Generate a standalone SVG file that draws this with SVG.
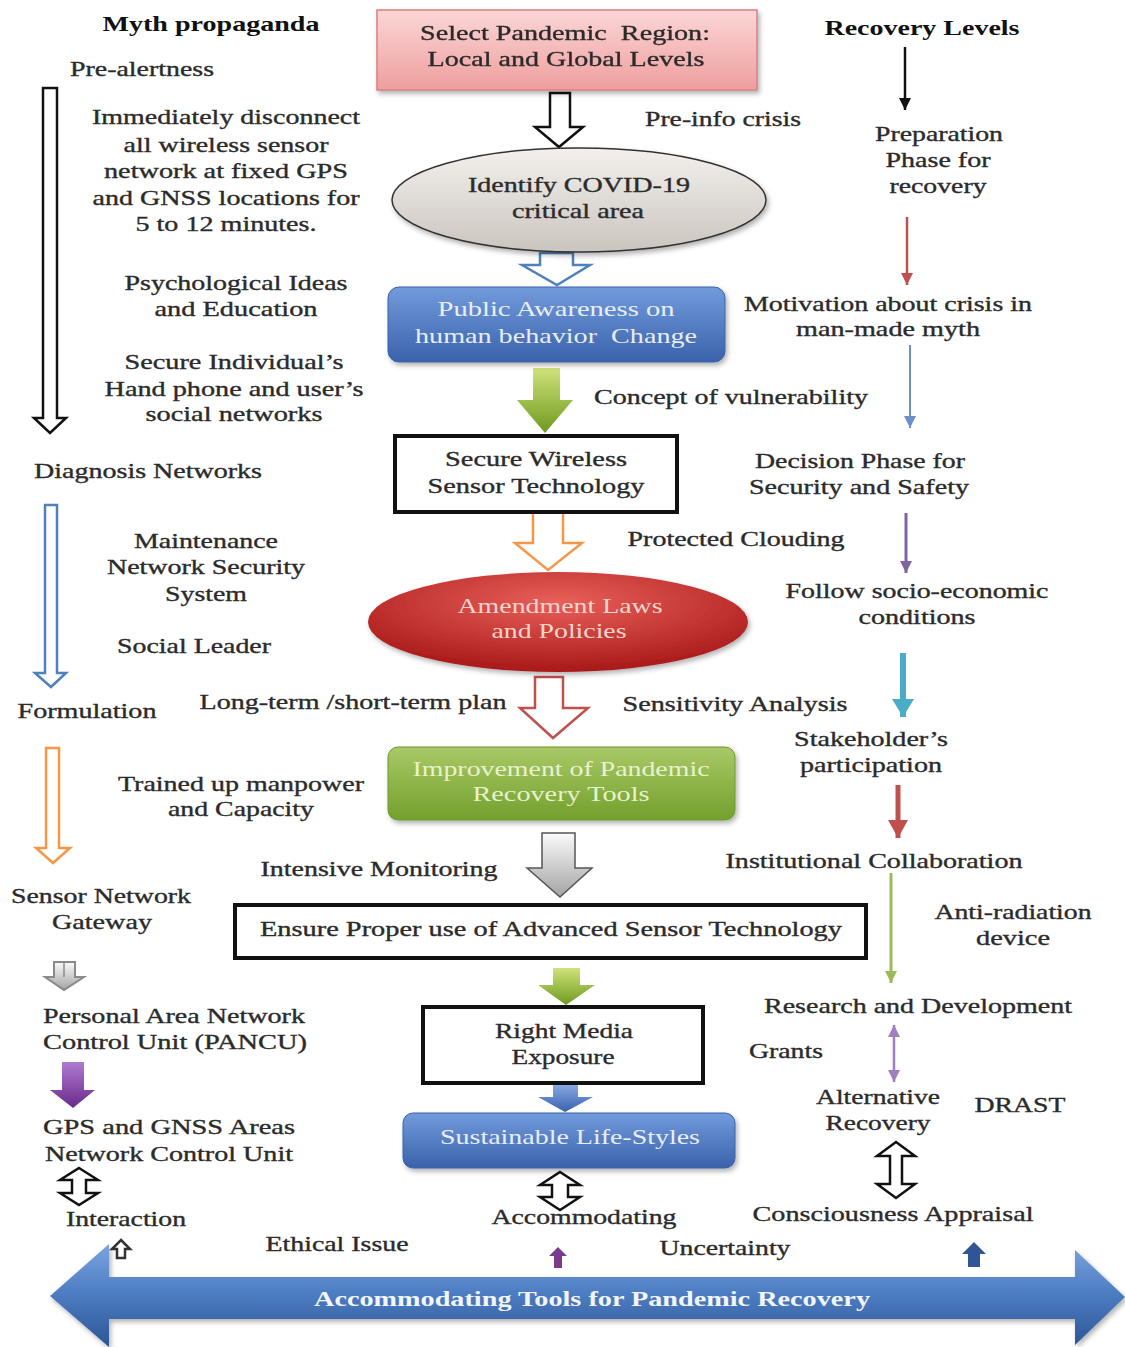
<svg xmlns="http://www.w3.org/2000/svg" width="1125" height="1347" viewBox="0 0 1125 1347">
<style>
.t{font-family:"Liberation Serif","Times New Roman",serif;font-size:21px;fill:#2b2b2b;text-anchor:middle;stroke:#2b2b2b;stroke-width:0.35px}
.l{text-anchor:start}
.b{font-weight:bold;fill:#111;stroke:none}
.wb{fill:#e9eef8;stroke:none}
.wr{fill:#f8d6cc;stroke:none}
.wg{fill:#e8f2cf;stroke:none}
.hollow{fill:#fff;stroke-width:2.5;stroke-linejoin:miter}
.box{fill:#fff;stroke:#111;stroke-width:4}
</style>
<defs>
<linearGradient id="gPink" x1="0" y1="0" x2="0" y2="1"><stop offset="0" stop-color="#fcd6d6"/><stop offset="1" stop-color="#ee9e9e"/></linearGradient>
<linearGradient id="gGray" x1="0" y1="0" x2="0" y2="1"><stop offset="0" stop-color="#f3f0ed"/><stop offset="1" stop-color="#cbc5bf"/></linearGradient>
<linearGradient id="gBlue" x1="0" y1="0" x2="0" y2="1"><stop offset="0" stop-color="#729bdc"/><stop offset="1" stop-color="#3a62ab"/></linearGradient>
<radialGradient id="gRed" cx="0.5" cy="0.3" r="0.7"><stop offset="0" stop-color="#e8605a"/><stop offset="1" stop-color="#a81818"/></radialGradient>
<linearGradient id="gGreen" x1="0" y1="0" x2="0" y2="1"><stop offset="0" stop-color="#a9c967"/><stop offset="1" stop-color="#73a02c"/></linearGradient>
<linearGradient id="gGreenA" x1="0" y1="0" x2="0" y2="1"><stop offset="0" stop-color="#cfe27a"/><stop offset="1" stop-color="#6f9a1f"/></linearGradient>
<linearGradient id="gGrayA" x1="0" y1="0" x2="0" y2="1"><stop offset="0" stop-color="#fbfbfb"/><stop offset="1" stop-color="#a3a3a3"/></linearGradient>
<linearGradient id="gPurpA" x1="0" y1="0" x2="0" y2="1"><stop offset="0" stop-color="#b07ad0"/><stop offset="1" stop-color="#6a2a8a"/></linearGradient>
<linearGradient id="gBlueA" x1="0" y1="0" x2="0" y2="1"><stop offset="0" stop-color="#86a8e2"/><stop offset="1" stop-color="#3962ad"/></linearGradient>
<linearGradient id="gBig" x1="0" y1="0" x2="0" y2="1"><stop offset="0" stop-color="#7ea3de"/><stop offset="0.45" stop-color="#4f7fc4"/><stop offset="1" stop-color="#2c5596"/></linearGradient>
<filter id="sh" x="-10%" y="-20%" width="120%" height="150%"><feDropShadow dx="2" dy="3" stdDeviation="2.5" flood-color="#000" flood-opacity="0.3"/></filter>
<marker id="mBlack" markerUnits="userSpaceOnUse" markerWidth="14" markerHeight="14" refX="12" refY="7" orient="auto-start-reverse"><path d="M0,1 L12,7 L0,13 Z" fill="#111"/></marker>
<marker id="mRed" markerUnits="userSpaceOnUse" markerWidth="14" markerHeight="14" refX="12" refY="7" orient="auto-start-reverse"><path d="M0,1 L12,7 L0,13 Z" fill="#c0504d"/></marker>
<marker id="mBlue" markerUnits="userSpaceOnUse" markerWidth="14" markerHeight="14" refX="12" refY="7" orient="auto-start-reverse"><path d="M0,1 L12,7 L0,13 Z" fill="#6b8fc9"/></marker>
<marker id="mPurple" markerUnits="userSpaceOnUse" markerWidth="14" markerHeight="14" refX="12" refY="7" orient="auto-start-reverse"><path d="M0,1 L12,7 L0,13 Z" fill="#8064a2"/></marker>
<marker id="mLav" markerUnits="userSpaceOnUse" markerWidth="14" markerHeight="14" refX="12" refY="7" orient="auto-start-reverse"><path d="M0,1 L12,7 L0,13 Z" fill="#9e7fc0"/></marker>
<marker id="mGreen" markerUnits="userSpaceOnUse" markerWidth="14" markerHeight="14" refX="12" refY="7" orient="auto-start-reverse"><path d="M0,1 L12,7 L0,13 Z" fill="#9bbb59"/></marker>
<marker id="mTeal" markerUnits="userSpaceOnUse" markerWidth="20" markerHeight="22" refX="18" refY="11" orient="auto-start-reverse"><path d="M0,0 L18,11 L0,22 Z" fill="#4bacc6"/></marker>
<marker id="mRed2" markerUnits="userSpaceOnUse" markerWidth="20" markerHeight="20" refX="18" refY="10" orient="auto-start-reverse"><path d="M0,0 L18,10 L0,20 Z" fill="#c0504d"/></marker>
</defs>
<rect width="1125" height="1347" fill="#fff"/>

<g id="connectors">
  <path class="hollow" stroke="#111" stroke-width="3" d="M550 93 L570 93 L570 127 L583 127 L559 147 L535 127 L550 127 Z"/>
  <path class="hollow" stroke="#4f81bd" d="M540 253 L573 253 L573 265 L590 265 L557 285 L522 265 L540 265 Z"/>
  <path fill="url(#gGreenA)" d="M533 368 L560 368 L560 400 L573 400 L545 433 L517 400 L533 400 Z"/>
  <path class="hollow" stroke="#f79646" d="M533 512 L563 512 L563 543 L582 543 L548 570 L515 543 L533 543 Z"/>
  <path class="hollow" stroke="#c0504d" d="M535 677 L563 677 L563 708 L588 708 L553 738 L520 708 L535 708 Z"/>
  <path fill="url(#gGrayA)" stroke="#555" stroke-width="1.5" d="M542 833 L575 833 L575 868 L592 868 L560 897 L527 868 L542 868 Z"/>
  <path fill="url(#gGreenA)" d="M553 968 L580 968 L580 985 L595 985 L566 1005 L538 985 L553 985 Z"/>
  <path fill="url(#gBlueA)" d="M553 1085 L578 1085 L578 1097 L593 1097 L565 1112 L538 1097 L553 1097 Z"/>
  <path class="hollow" stroke="#111" stroke-width="3.5" d="M560 1172 L580 1185 L568 1185 L568 1197 L580 1197 L560 1210 L540 1197 L552 1197 L552 1185 L540 1185 Z"/>
  <path fill="#7b3a8e" d="M558 1247 L567 1256 L562 1256 L562 1268 L554 1268 L554 1256 L549 1256 Z"/>
  <path class="hollow" stroke="#111" d="M43 88 L57 88 L57 418 L66 418 L50 433 L34 418 L43 418 Z"/>
  <path class="hollow" stroke="#4f81bd" d="M45 505 L57 505 L57 673 L66 673 L51 687 L35 673 L45 673 Z"/>
  <path class="hollow" stroke="#f79646" d="M46 748 L59 748 L59 848 L70 848 L53 863 L36 848 L46 848 Z"/>
  <path fill="url(#gGrayA)" stroke="#8a8a8a" stroke-width="2" d="M54 962 L75 962 L75 977 L84 977 L64 990 L45 977 L54 977 Z"/>
  <line x1="64" y1="962" x2="64" y2="977" stroke="#8a8a8a" stroke-width="1.5"/>
  <path fill="url(#gPurpA)" d="M62 1062 L84 1062 L84 1090 L95 1090 L73 1108 L50 1090 L62 1090 Z"/>
  <path class="hollow" stroke="#111" stroke-width="3.5" d="M79 1168 L98 1180 L86 1180 L86 1193 L98 1193 L79 1205 L60 1193 L72 1193 L72 1180 L60 1180 Z"/>
  <path class="hollow" stroke="#333" stroke-width="2" d="M121 1240 L130 1249 L125 1249 L125 1258 L117 1258 L117 1249 L112 1249 Z"/>
  <line x1="905" y1="47" x2="905" y2="110" stroke="#111" stroke-width="2.5" marker-end="url(#mBlack)"/>
  <line x1="907" y1="217" x2="907" y2="285" stroke="#c0504d" stroke-width="2.5" marker-end="url(#mRed)"/>
  <line x1="910" y1="345" x2="910" y2="428" stroke="#6b8fc9" stroke-width="2" marker-end="url(#mBlue)"/>
  <line x1="906" y1="513" x2="906" y2="573" stroke="#8064a2" stroke-width="3" marker-end="url(#mPurple)"/>
  <line x1="903" y1="653" x2="903" y2="717" stroke="#4bacc6" stroke-width="6" marker-end="url(#mTeal)"/>
  <line x1="898" y1="785" x2="898" y2="838" stroke="#c0504d" stroke-width="5" marker-end="url(#mRed2)"/>
  <line x1="891" y1="873" x2="891" y2="983" stroke="#9bbb59" stroke-width="3" marker-end="url(#mGreen)"/>
  <line x1="894" y1="1025" x2="894" y2="1082" stroke="#9e7fc0" stroke-width="2.5" marker-start="url(#mLav)" marker-end="url(#mLav)"/>
  <path class="hollow" stroke="#111" stroke-width="3.5" d="M896 1142 L915 1156 L902 1156 L902 1184 L915 1184 L896 1198 L877 1184 L890 1184 L890 1156 L877 1156 Z"/>
  <path fill="#2f5597" d="M974 1242 L986 1254 L980 1254 L980 1267 L968 1267 L968 1254 L962 1254 Z"/>
</g>

<g id="node-select-region" filter="url(#sh)">
  <rect x="377" y="10" width="380" height="80" fill="url(#gPink)" stroke="#d98080" stroke-width="1.5"/>
  <text class="t" x="565" y="40" textLength="290" lengthAdjust="spacingAndGlyphs" xml:space="preserve">Select Pandemic  Region:</text>
  <text class="t" x="566" y="66" textLength="277" lengthAdjust="spacingAndGlyphs">Local and Global Levels</text>
</g>
<g id="node-identify-covid">
  <ellipse cx="579" cy="200" rx="187" ry="52" fill="url(#gGray)" stroke="#333" stroke-width="1.5" filter="url(#sh)"/>
  <text class="t" x="579" y="192" textLength="222" lengthAdjust="spacingAndGlyphs">Identify COVID-19</text>
  <text class="t" x="578" y="218" textLength="132" lengthAdjust="spacingAndGlyphs">critical area</text>
</g>
<g id="node-public-awareness">
  <rect x="388" y="287" width="337" height="75" rx="11" fill="url(#gBlue)" stroke="#3a62ab" stroke-width="1" filter="url(#sh)"/>
  <text class="t wb" x="556" y="316" textLength="237" lengthAdjust="spacingAndGlyphs">Public Awareness on</text>
  <text class="t wb" x="556" y="343" textLength="282" lengthAdjust="spacingAndGlyphs" xml:space="preserve">human behavior  Change</text>
</g>
<g id="node-secure-wireless">
  <rect class="box" x="395" y="436" width="282" height="76"/>
  <text class="t" x="536" y="466" textLength="182" lengthAdjust="spacingAndGlyphs">Secure Wireless</text>
  <text class="t" x="536" y="493" textLength="217" lengthAdjust="spacingAndGlyphs">Sensor Technology</text>
</g>
<g id="node-amendment-laws">
  <ellipse cx="558" cy="622" rx="190" ry="50" fill="url(#gRed)" filter="url(#sh)"/>
  <text class="t wr" x="560" y="613" textLength="205" lengthAdjust="spacingAndGlyphs">Amendment Laws</text>
  <text class="t wr" x="559" y="638" textLength="135" lengthAdjust="spacingAndGlyphs">and Policies</text>
</g>
<g id="node-improvement">
  <rect x="388" y="747" width="347" height="73" rx="10" fill="url(#gGreen)" stroke="#6f9a2a" stroke-width="1" filter="url(#sh)"/>
  <text class="t wg" x="561" y="776" textLength="297" lengthAdjust="spacingAndGlyphs">Improvement of Pandemic</text>
  <text class="t wg" x="561" y="801" textLength="177" lengthAdjust="spacingAndGlyphs">Recovery Tools</text>
</g>
<g id="node-ensure-proper-use">
  <rect class="box" x="235" y="905" width="631" height="53"/>
  <text class="t" x="551" y="936" textLength="582" lengthAdjust="spacingAndGlyphs">Ensure Proper use of Advanced Sensor Technology</text>
</g>
<g id="node-right-media">
  <rect class="box" x="423" y="1007" width="280" height="76"/>
  <text class="t" x="564" y="1038" textLength="138" lengthAdjust="spacingAndGlyphs">Right Media</text>
  <text class="t" x="563" y="1064" textLength="103" lengthAdjust="spacingAndGlyphs">Exposure</text>
</g>
<g id="node-sustainable">
  <rect x="403" y="1113" width="332" height="55" rx="10" fill="url(#gBlue)" stroke="#3a62ab" stroke-width="1" filter="url(#sh)"/>
  <text class="t wb" x="570" y="1144" textLength="260" lengthAdjust="spacingAndGlyphs">Sustainable Life-Styles</text>
</g>
<g id="node-accommodating-tools">
  <path d="M50 1296 L109 1244 L109 1277 L1075 1277 L1075 1250 L1125 1297 L1075 1345 L1075 1319 L109 1319 L109 1347 Z" fill="url(#gBig)" filter="url(#sh)"/>
  <text class="t" x="592" y="1306" textLength="556" lengthAdjust="spacingAndGlyphs" style="font-weight:bold;fill:#f2f5fb;stroke:none">Accommodating Tools for Pandemic Recovery</text>
</g>

<g id="left-labels">
  <g id="lbl-myth"><text class="t b" x="211" y="31" textLength="217" lengthAdjust="spacingAndGlyphs">Myth propaganda</text></g>
  <g id="lbl-prealert"><text class="t" x="142" y="76" textLength="144" lengthAdjust="spacingAndGlyphs">Pre-alertness</text></g>
  <g id="lbl-disconnect">
    <text class="t" x="226" y="124" textLength="268" lengthAdjust="spacingAndGlyphs">Immediately disconnect</text>
    <text class="t" x="226" y="152" textLength="205" lengthAdjust="spacingAndGlyphs">all wireless sensor</text>
    <text class="t" x="226" y="178" textLength="244" lengthAdjust="spacingAndGlyphs">network at fixed GPS</text>
    <text class="t" x="226" y="205" textLength="267" lengthAdjust="spacingAndGlyphs">and GNSS locations for</text>
    <text class="t" x="226" y="231" textLength="181" lengthAdjust="spacingAndGlyphs">5 to 12 minutes.</text>
  </g>
  <g id="lbl-psych">
    <text class="t" x="236" y="290" textLength="223" lengthAdjust="spacingAndGlyphs">Psychological Ideas</text>
    <text class="t" x="236" y="316" textLength="163" lengthAdjust="spacingAndGlyphs">and Education</text>
  </g>
  <g id="lbl-secure-individual">
    <text class="t" x="234" y="369" textLength="219" lengthAdjust="spacingAndGlyphs">Secure Individual’s</text>
    <text class="t" x="234" y="396" textLength="259" lengthAdjust="spacingAndGlyphs">Hand phone and user’s</text>
    <text class="t" x="234" y="421" textLength="177" lengthAdjust="spacingAndGlyphs">social networks</text>
  </g>
  <g id="lbl-diagnosis"><text class="t" x="148" y="478" textLength="228" lengthAdjust="spacingAndGlyphs">Diagnosis Networks</text></g>
  <g id="lbl-maintenance">
    <text class="t" x="206" y="548" textLength="144" lengthAdjust="spacingAndGlyphs">Maintenance</text>
    <text class="t" x="206" y="574" textLength="198" lengthAdjust="spacingAndGlyphs">Network Security</text>
    <text class="t" x="206" y="601" textLength="82" lengthAdjust="spacingAndGlyphs">System</text>
  </g>
  <g id="lbl-social-leader"><text class="t" x="194" y="653" textLength="154" lengthAdjust="spacingAndGlyphs">Social Leader</text></g>
  <g id="lbl-formulation"><text class="t" x="87" y="718" textLength="139" lengthAdjust="spacingAndGlyphs">Formulation</text></g>
  <g id="lbl-long-term"><text class="t" x="353" y="709" textLength="307" lengthAdjust="spacingAndGlyphs">Long-term /short-term plan</text></g>
  <g id="lbl-trained">
    <text class="t" x="241" y="791" textLength="246" lengthAdjust="spacingAndGlyphs">Trained up manpower</text>
    <text class="t" x="241" y="816" textLength="146" lengthAdjust="spacingAndGlyphs">and Capacity</text>
  </g>
  <g id="lbl-intensive"><text class="t" x="379" y="876" textLength="237" lengthAdjust="spacingAndGlyphs">Intensive Monitoring</text></g>
  <g id="lbl-gateway">
    <text class="t" x="101" y="903" textLength="180" lengthAdjust="spacingAndGlyphs">Sensor Network</text>
    <text class="t" x="102" y="929" textLength="100" lengthAdjust="spacingAndGlyphs">Gateway</text>
  </g>
  <g id="lbl-pancu">
    <text class="t l" x="43" y="1023" textLength="262" lengthAdjust="spacingAndGlyphs">Personal Area Network</text>
    <text class="t l" x="43" y="1049" textLength="264" lengthAdjust="spacingAndGlyphs">Control Unit (PANCU)</text>
  </g>
  <g id="lbl-gps">
    <text class="t l" x="43" y="1134" textLength="252" lengthAdjust="spacingAndGlyphs">GPS and GNSS Areas</text>
    <text class="t l" x="45" y="1161" textLength="248" lengthAdjust="spacingAndGlyphs">Network Control Unit</text>
  </g>
  <g id="lbl-interaction"><text class="t" x="126" y="1226" textLength="120" lengthAdjust="spacingAndGlyphs">Interaction</text></g>
  <g id="lbl-ethical"><text class="t" x="337" y="1251" textLength="143" lengthAdjust="spacingAndGlyphs">Ethical Issue</text></g>
</g>

<g id="center-labels">
  <g id="lbl-preinfo"><text class="t" x="723" y="126" textLength="156" lengthAdjust="spacingAndGlyphs">Pre-info crisis</text></g>
  <g id="lbl-concept"><text class="t" x="731" y="404" textLength="274" lengthAdjust="spacingAndGlyphs">Concept of vulnerability</text></g>
  <g id="lbl-protected"><text class="t" x="736" y="546" textLength="217" lengthAdjust="spacingAndGlyphs">Protected Clouding</text></g>
  <g id="lbl-sensitivity"><text class="t" x="735" y="711" textLength="225" lengthAdjust="spacingAndGlyphs">Sensitivity Analysis</text></g>
  <g id="lbl-accommodating"><text class="t" x="584" y="1224" textLength="185" lengthAdjust="spacingAndGlyphs">Accommodating</text></g>
  <g id="lbl-uncertainty"><text class="t" x="725" y="1255" textLength="131" lengthAdjust="spacingAndGlyphs">Uncertainty</text></g>
</g>

<g id="right-labels">
  <g id="lbl-recovery-levels"><text class="t b" x="922" y="35" textLength="195" lengthAdjust="spacingAndGlyphs">Recovery Levels</text></g>
  <g id="lbl-preparation">
    <text class="t" x="939" y="141" textLength="128" lengthAdjust="spacingAndGlyphs">Preparation</text>
    <text class="t" x="938" y="167" textLength="105" lengthAdjust="spacingAndGlyphs">Phase for</text>
    <text class="t" x="938" y="193" textLength="97" lengthAdjust="spacingAndGlyphs">recovery</text>
  </g>
  <g id="lbl-motivation">
    <text class="t" x="888" y="311" textLength="288" lengthAdjust="spacingAndGlyphs">Motivation about crisis in</text>
    <text class="t" x="888" y="336" textLength="184" lengthAdjust="spacingAndGlyphs">man-made myth</text>
  </g>
  <g id="lbl-decision">
    <text class="t" x="860" y="468" textLength="210" lengthAdjust="spacingAndGlyphs">Decision Phase for</text>
    <text class="t" x="859" y="494" textLength="220" lengthAdjust="spacingAndGlyphs">Security and Safety</text>
  </g>
  <g id="lbl-socio">
    <text class="t" x="917" y="598" textLength="263" lengthAdjust="spacingAndGlyphs">Follow socio-economic</text>
    <text class="t" x="917" y="624" textLength="117" lengthAdjust="spacingAndGlyphs">conditions</text>
  </g>
  <g id="lbl-stakeholder">
    <text class="t" x="871" y="746" textLength="154" lengthAdjust="spacingAndGlyphs">Stakeholder’s</text>
    <text class="t" x="871" y="772" textLength="142" lengthAdjust="spacingAndGlyphs">participation</text>
  </g>
  <g id="lbl-institutional"><text class="t" x="874" y="868" textLength="297" lengthAdjust="spacingAndGlyphs">Institutional Collaboration</text></g>
  <g id="lbl-antiradiation">
    <text class="t" x="1013" y="919" textLength="157" lengthAdjust="spacingAndGlyphs">Anti-radiation</text>
    <text class="t" x="1013" y="945" textLength="74" lengthAdjust="spacingAndGlyphs">device</text>
  </g>
  <g id="lbl-research"><text class="t" x="918" y="1013" textLength="308" lengthAdjust="spacingAndGlyphs">Research and Development</text></g>
  <g id="lbl-grants"><text class="t" x="786" y="1058" textLength="74" lengthAdjust="spacingAndGlyphs">Grants</text></g>
  <g id="lbl-alternative">
    <text class="t" x="878" y="1104" textLength="124" lengthAdjust="spacingAndGlyphs">Alternative</text>
    <text class="t" x="878" y="1130" textLength="105" lengthAdjust="spacingAndGlyphs">Recovery</text>
  </g>
  <g id="lbl-drast"><text class="t" x="1020" y="1112" textLength="91" lengthAdjust="spacingAndGlyphs">DRAST</text></g>
  <g id="lbl-consciousness"><text class="t" x="893" y="1221" textLength="281" lengthAdjust="spacingAndGlyphs">Consciousness Appraisal</text></g>
</g>
</svg>
